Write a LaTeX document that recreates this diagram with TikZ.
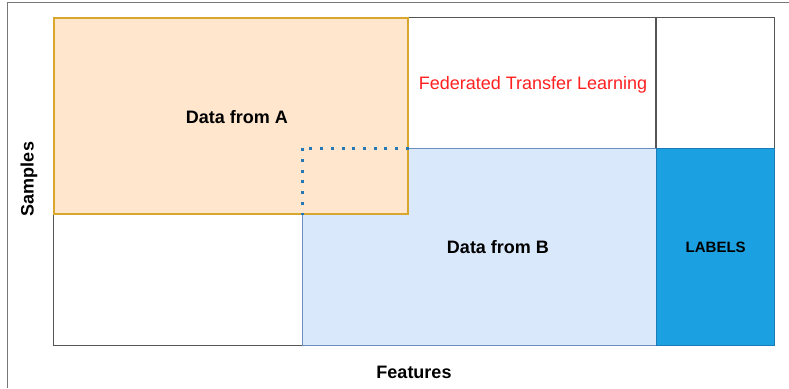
\documentclass[tikz,border=0pt]{standalone}
\usepackage{fontspec}
\setmainfont{Liberation Sans}
\definecolor{aFill}{HTML}{FFE6CC}
\definecolor{aDraw}{HTML}{D9A62E}
\definecolor{bFill}{HTML}{DAE8FC}
\definecolor{bDraw}{HTML}{6C8EBF}
\definecolor{lFill}{HTML}{1BA1E2}
\definecolor{lDraw}{HTML}{1B7BB8}
\definecolor{gridc}{HTML}{555555}
\definecolor{dotc}{HTML}{2578B3}
\definecolor{ftl}{HTML}{FF2020}
\tikzset{
  region/.style={rectangle, inner sep=0pt, line width=1.4pt, anchor=north west},
  lbl/.style={font=\fontsize{18}{21}\selectfont\bfseries, inner sep=0pt},
}
\begin{document}
\begin{tikzpicture}[x=1pt,y=-1pt]
\useasboundingbox (0,0) rectangle (789,388);
% outer frame of screenshot
\draw[gridc!80, line width=1pt] (7.5,388) -- (7.5,2.5) -- (789,2.5);
% overall grid
\node[region, draw=gridc, fill=white, minimum width=721pt, minimum height=328pt] (all) at (53,17) {};
\draw[gridc, line width=1.4pt] (656,17) -- (656,148);
% B
\node[region, draw=bDraw, fill=bFill, minimum width=354pt, minimum height=197pt] (B) at (302,148) {};
% labels
\node[region, draw=lDraw, fill=lFill, minimum width=118pt, minimum height=197pt] (L) at (656,148) {};
% A
\node[region, draw=aDraw, fill=aFill, line width=1.7pt, minimum width=354pt, minimum height=196pt] (A) at (53,17) {};
% dotted overlap
\coordinate (c) at (302,148);
\draw[dotc, line width=3pt, dash pattern=on 3pt off 7.7pt] (A.east |- c) -- (c) -- (c |- A.south);
% texts
\node[lbl] (tA) at (237,117) {Data from A};
\node[lbl] (tB) at (498,247) {Data from B};
\node[font=\fontsize{15}{17}\selectfont\bfseries, inner sep=0pt] (tL) at (L.center) {LABELS};
\node[font=\fontsize{18}{21}\selectfont, text=ftl, inner sep=0pt] (ftl) at (533,85) {Federated Transfer Learning};
\node[lbl, rotate=90] (samples) at (29,179) {Samples};
\node[lbl] (features) at (414,372) {Features};
\end{tikzpicture}
\end{document}
